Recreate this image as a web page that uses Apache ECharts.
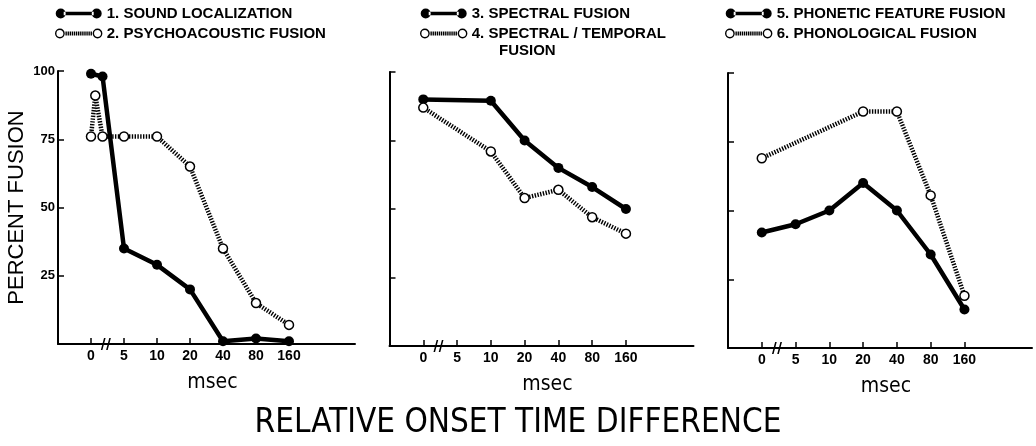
<html>
<head>
    <meta charset='utf-8'/>
    <title>Percent fusion</title>
    <style>
        body { margin: 0; padding: 0; background: #fff; }
        #chart { width: 1036px; height: 446px; }
    </style>
    <script src="https://cdn.jsdelivr.net/npm/echarts@6/dist/echarts.min.js"></script>
</head>
<body>
<div id='chart'></div>
<script type="text/javascript">
    // tick labels of the onset axis (one slot each)
    var msecTicks = ['0', '5', '10', '20', '40', '80', '160'];

    // panel 1
    var locX = [0, 0.35, 1, 2, 3, 4, 5, 6];
    var locY = [99, 98, 35, 29, 20, 1, 2, 1];
    var psyX = [0, 0.13, 0.35, 1, 2, 3, 4, 5, 6];
    var psyY = [76, 91, 76, 76, 76, 65, 35, 15, 7];
    // panel 2
    var specX = [0, 2, 3, 4, 5, 6];
    var specY = [90, 89.5, 75, 65, 58, 50];
    var stX = [0, 2, 3, 4, 5, 6];
    var stY = [87, 71, 54, 57, 47, 41];
    // panel 3
    var phonX = [0, 1, 2, 3, 4, 5, 6];
    var phonY = [42, 45, 50, 60, 50, 34, 14];
    var phonoX = [0, 3, 4, 5, 6];
    var phonoY = [69, 86, 86, 55.5, 19];

    var names = ['1. SOUND LOCALIZATION', '2. PSYCHOACOUSTIC FUSION',
        '3. SPECTRAL FUSION', '4. SPECTRAL / TEMPORAL',
        '5. PHONETIC FEATURE FUSION', '6. PHONOLOGICAL FUSION'];

    function zip(xs, ys) {
        return xs.map(function (x, i) { return [x, ys[i]]; });
    }

    var narrow = "'Liberation Sans Narrow', 'DejaVu Sans Condensed', 'Liberation Sans', sans-serif";
    var bold = "'Liberation Sans', sans-serif";

    // legend icons: dumbbell (filled) and open rings with hatched bar
    var iconFilled = 'path://M0,5a5,5 0 1,0 10,0a5,5 0 1,0 -10,0Z M36,5a5,5 0 1,0 10,0a5,5 0 1,0 -10,0Z M8,3.2L38,3.2L38,6.8L8,6.8Z';
    var hatch = '';
    for (var h = 11; h < 36; h += 2) {
        hatch += 'M' + h + ',3L' + h + ',7';
    }
    var iconOpen = 'path://M1,5a4,4 0 1,0 8,0a4,4 0 1,0 -8,0Z M37,5a4,4 0 1,0 8,0a4,4 0 1,0 -8,0Z ' + hatch;
    var breakMark = 'path://M0,12L3,0L4.5,0L1.5,12Z M5,12L8,0L9.5,0L6.5,12Z';

    var grids = [
        {left: 58, top: 71, width: 297, height: 273},
        {left: 389.5, top: 72, width: 304, height: 274},
        {left: 728, top: 73, width: 304, height: 275}
    ];

    function xAxis(i) {
        return {
            type: 'value', gridIndex: i, min: -1, max: 8, interval: 1,
            name: 'msec', nameLocation: 'middle', nameGap: 28,
            nameTextStyle: {fontFamily: narrow, fontSize: 21, color: '#000', padding: [0, 0, 0, 12]},
            axisLine: {onZero: false, lineStyle: {color: '#000', width: 2}},
            axisTick: {inside: true, length: 6, customValues: [0, 1, 2, 3, 4, 5, 6],
                lineStyle: {color: '#000', width: 1.5}},
            axisLabel: {
                customValues: [0, 1, 2, 3, 4, 5, 6], margin: 5,
                fontFamily: bold, fontWeight: 'bold', fontSize: 14, color: '#000',
                formatter: function (v) { return msecTicks[Math.round(v)]; }
            },
            splitLine: {show: false}
        };
    }

    function yAxis(i) {
        return {
            type: 'value', gridIndex: i, min: 0, max: 100, interval: 25,
            name: i === 0 ? 'PERCENT FUSION' : '', nameLocation: 'middle', nameGap: 30,
            nameTextStyle: {fontFamily: "'Liberation Sans', sans-serif", fontSize: 22, color: '#000'},
            axisLine: {show: true, onZero: false, lineStyle: {color: '#000', width: 2}},
            axisTick: {show: true, inside: true, length: 6, lineStyle: {color: '#000', width: 1.5}},
            axisLabel: {
                show: i === 0, margin: 3,
                fontFamily: bold, fontWeight: 'bold', fontSize: 13, color: '#000',
                formatter: function (v) { return v === 0 ? '' : v; }
            },
            splitLine: {show: false}
        };
    }

    function solid(name, i, data) {
        return {
            name: name, type: 'line', xAxisIndex: i, yAxisIndex: i, data: data,
            symbol: 'circle', symbolSize: 10, z: 3,
            lineStyle: {color: '#000', width: 4.5},
            itemStyle: {color: '#000'},
            markPoint: {
                silent: true, symbol: breakMark, symbolSize: [10, 12],
                itemStyle: {color: '#000'}, label: {show: false},
                data: [{coord: [0.45, 0]}]
            }
        };
    }

    function dotted(name, i, data) {
        return {
            name: name, type: 'line', xAxisIndex: i, yAxisIndex: i, data: data,
            symbol: 'circle', symbolSize: 9, z: 4,
            lineStyle: {color: '#000', width: 4.5, type: [1.4, 1.4]},
            itemStyle: {color: '#fff', borderColor: '#000', borderWidth: 1.5}
        };
    }

    function legend(left, a, b) {
        return {
            orient: 'vertical', left: left, top: 6, itemGap: 5, padding: 0,
            itemWidth: 46, itemHeight: 10, selectedMode: false,
            textStyle: {fontFamily: bold, fontWeight: 'bold', fontSize: 15, color: '#000'},
            data: [
                {name: a, icon: iconFilled, itemStyle: {color: '#000', borderWidth: 0}},
                {name: b, icon: iconOpen, itemStyle: {color: '#fff', borderColor: '#000', borderWidth: 1.4}}
            ]
        };
    }

    var chart = echarts.init(document.getElementById('chart'), null, {renderer: 'canvas'});
    chart.setOption({
        backgroundColor: '#fff',
        animation: false,
        title: [
            {text: 'RELATIVE ONSET TIME DIFFERENCE', left: 'center', top: 402,
                textStyle: {fontFamily: narrow, fontSize: 33, fontWeight: 'normal', color: '#000'}},
            {text: 'FUSION', left: 499, top: 43, padding: 0,
                textStyle: {fontFamily: bold, fontSize: 15, fontWeight: 'bold', color: '#000'}}
        ],
        legend: [
            legend(55, names[0], names[1]),
            legend(420, names[2], names[3]),
            legend(725, names[4], names[5])
        ],
        grid: grids,
        xAxis: [xAxis(0), xAxis(1), xAxis(2)],
        yAxis: [yAxis(0), yAxis(1), yAxis(2)],
        series: [
            solid(names[0], 0, zip(locX, locY)),
            dotted(names[1], 0, zip(psyX, psyY)),
            solid(names[2], 1, zip(specX, specY)),
            dotted(names[3], 1, zip(stX, stY)),
            solid(names[4], 2, zip(phonX, phonY)),
            dotted(names[5], 2, zip(phonoX, phonoY))
        ]
    });
</script>
</body>
</html>
